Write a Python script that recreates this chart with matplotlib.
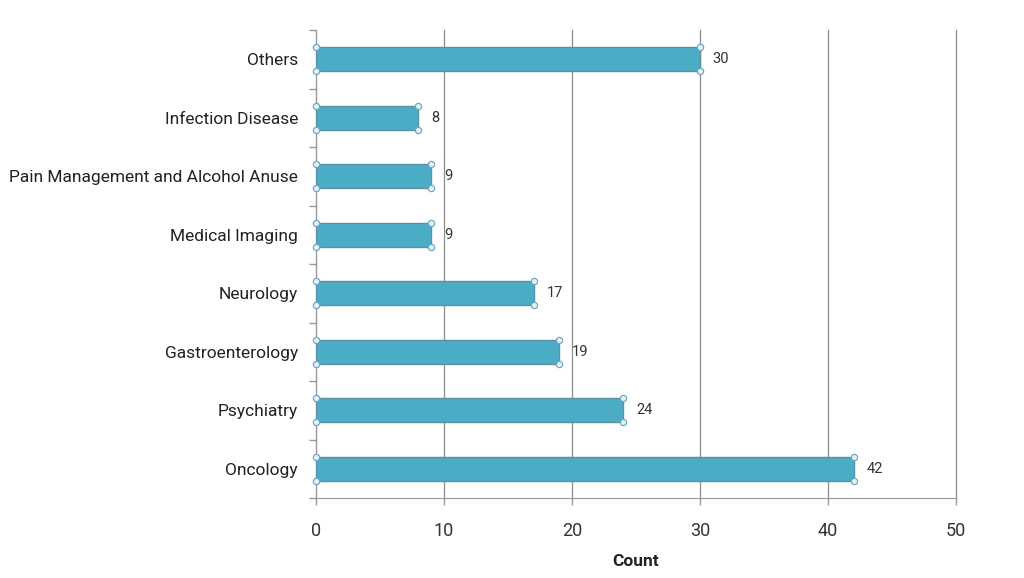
import matplotlib
matplotlib.use("Agg")
import matplotlib.pyplot as plt
import numpy as np

categories = ["Oncology", "Psychiatry", "Gastroenterology", "Neurology",
              "Medical Imaging", "Pain Management and Alcohol Anuse",
              "Infection Disease", "Others"]
counts = [42, 24, 19, 17, 9, 9, 8, 30]
xticks = [0, 10, 20, 30, 40, 50]

plt.rcParams['font.family'] = ['Roboto', 'DejaVu Sans']

fig = plt.figure(figsize=(10.24, 5.78), dpi=100)
ax = fig.add_axes([316/1024, 1-498/578, 640/1024, 468/578])

y = np.arange(len(categories))
bh = 0.41
ax.barh(y, counts, height=bh, color="#4BACC6", edgecolor="#5E8FA3", linewidth=1.0, zorder=3)

# selection handles at corners
for yi, v in zip(y, counts):
    xs = [0, 0, v, v]
    ys = [yi - bh/2, yi + bh/2, yi - bh/2, yi + bh/2]
    ax.plot(xs, ys, linestyle="none", marker="o", markersize=4.5,
            markerfacecolor="#E6F2F7", markeredgecolor="#6FA8C4", markeredgewidth=0.9,
            zorder=4, clip_on=False)
    ax.text(v + 1.0, yi, str(v), va="center", ha="left", fontsize=10.5, color="#333333")

ax.set_xlim(0, 50)
ax.set_ylim(-0.5, len(categories) - 0.5)
ax.set_xticks(xticks)
ax.set_xticklabels([str(t) for t in xticks], fontsize=13, color="#333333")
ax.set_yticks(y)
ax.set_yticklabels(categories, fontsize=12.5, color="#222222")
ax.tick_params(axis="y", length=0, pad=13)
ax.set_yticks(np.arange(-0.5, len(categories), 1.0), minor=True)
ax.tick_params(axis="y", which="minor", length=5, color="#999999", width=1)
ax.tick_params(axis="x", length=5, color="#999999", width=1, pad=12)

ax.grid(axis="x", color="#8C8C8C", linewidth=0.9, zorder=0)
ax.set_axisbelow(True)
for gl in ax.get_xgridlines():
    gl.set_clip_on(False)
for s in ["top", "right"]:
    ax.spines[s].set_visible(False)
ax.spines["left"].set_color("#999999")
ax.spines["bottom"].set_color("#999999")

ax.set_xlabel("Count", fontsize=12.5, fontweight="bold", color="#222222", labelpad=10)

fig.savefig("out.png", dpi=100)
